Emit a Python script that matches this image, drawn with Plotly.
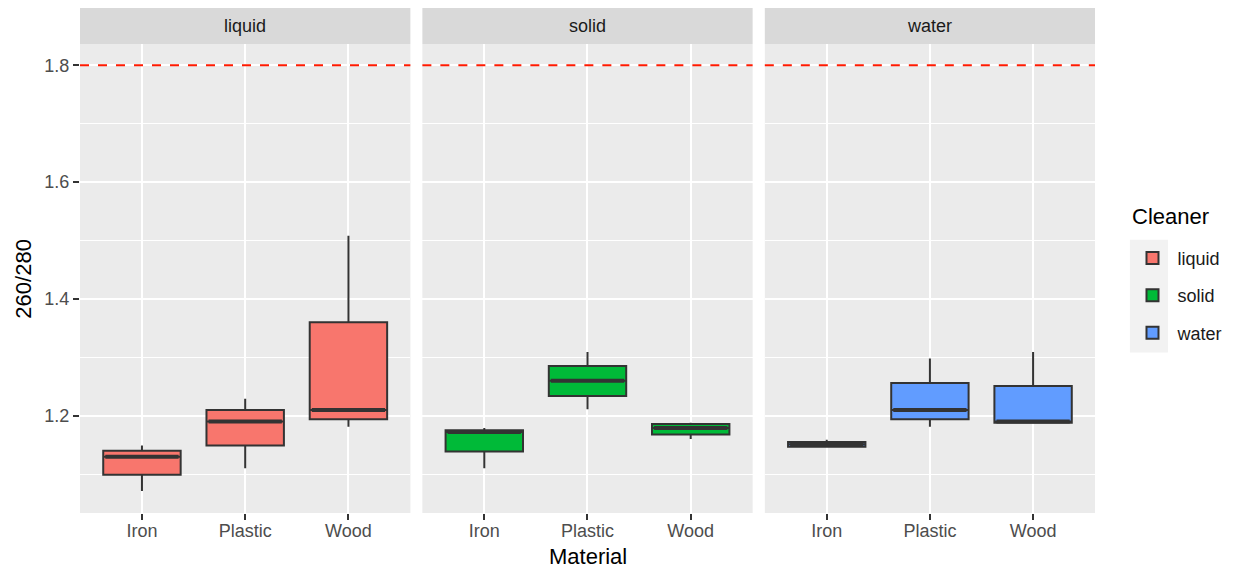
import plotly.graph_objects as go

# --- data -------------------------------------------------------------
MATERIALS = ["Iron", "Plastic", "Wood"]
CLEANERS = ["liquid", "solid", "water"]

# five-number summaries of 260/280 per material, one list per cleaner
liquid_low = [1.071, 1.110, 1.181]
liquid_q1 = [1.099, 1.149, 1.194]
liquid_med = [1.130, 1.190, 1.210]
liquid_q3 = [1.140, 1.210, 1.360]
liquid_high = [1.149, 1.229, 1.508]

solid_low = [1.110, 1.211, 1.160]
solid_q1 = [1.139, 1.234, 1.168]
solid_med = [1.172, 1.260, 1.179]
solid_q3 = [1.175, 1.285, 1.186]
solid_high = [1.179, 1.309, 1.188]

water_low = [1.146, 1.181, 1.188]
water_q1 = [1.147, 1.194, 1.188]
water_med = [1.151, 1.210, 1.190]
water_q3 = [1.155, 1.256, 1.251]
water_high = [1.159, 1.298, 1.309]

REFERENCE_RATIO = 1.8
Y_TICKS = [1.2, 1.4, 1.6, 1.8]
Y_MINOR = [1.1, 1.3, 1.5, 1.7]

summaries = {
    "liquid": (liquid_low, liquid_q1, liquid_med, liquid_q3, liquid_high),
    "solid": (solid_low, solid_q1, solid_med, solid_q3, solid_high),
    "water": (water_low, water_q1, water_med, water_q3, water_high),
}
fills = {"liquid": "#F8766D", "solid": "#00BA38", "water": "#619CFF"}

# --- style ------------------------------------------------------------
FONT = "Liberation Sans, Arial, Helvetica, sans-serif"
OUTLINE = "#333333"
PANEL_BG = "#EBEBEB"
STRIP_BG = "#D9D9D9"
KEY_BG = "#F2F2F2"
TICK_COLOR = "#4D4D4D"

domains = [[0.0, 0.3255], [0.3373, 0.6627], [0.6747, 1.0]]
y_range = [1.0335, 1.8365]
strip_top = 1.077

fig = go.Figure()

for i, cleaner in enumerate(CLEANERS):
    low, q1, med, q3, high = summaries[cleaner]
    xa = "x" if i == 0 else f"x{i + 1}"
    ya = "y" if i == 0 else f"y{i + 1}"
    fig.add_trace(go.Box(
        name=cleaner,
        x=MATERIALS,
        lowerfence=low, q1=q1, median=med, q3=q3, upperfence=high,
        fillcolor=fills[cleaner],
        line=dict(color=OUTLINE, width=2),
        whiskerwidth=0,
        width=0.75,
        boxpoints=False,
        xaxis=xa, yaxis=ya,
        legendgroup=cleaner,
        showlegend=True,
    ))
    # heavier median bar drawn on top of each box
    fig.add_trace(go.Box(
        name=cleaner,
        x=MATERIALS,
        lowerfence=med, q1=med, median=med, q3=med, upperfence=med,
        fillcolor=OUTLINE,
        line=dict(color=OUTLINE, width=4),
        whiskerwidth=0,
        width=0.75 - 0.04,
        boxpoints=False,
        xaxis=xa, yaxis=ya,
        legendgroup=cleaner,
        showlegend=False,
        hoverinfo="skip",
    ))

layout = dict(
    width=1239, height=573,
    margin=dict(l=80, r=143, t=44, b=60),
    paper_bgcolor="white",
    plot_bgcolor=PANEL_BG,
    boxmode="overlay",
    font=dict(family=FONT, size=18, color="#1A1A1A"),
    showlegend=True,
    legend=dict(
        font=dict(size=18, color="#1A1A1A"),
        x=1.031, xanchor="left",
        y=0.4633, yanchor="middle",
        itemwidth=40,
        tracegroupgap=11,
        bgcolor="rgba(0,0,0,0)",
    ),
    shapes=[],
    annotations=[],
)

for i, cleaner in enumerate(CLEANERS):
    sfx = "" if i == 0 else str(i + 1)
    layout[f"xaxis{sfx}"] = dict(
        domain=domains[i],
        type="category",
        categoryorder="array", categoryarray=MATERIALS,
        range=[-0.6, 2.6],
        showgrid=True, gridcolor="white", gridwidth=2,
        zeroline=False, showline=False,
        ticks="outside", ticklen=6, tickwidth=2, tickcolor=OUTLINE,
        ticklabelstandoff=-5,
        tickfont=dict(size=18, color=TICK_COLOR),
        anchor=f"y{sfx}",
        fixedrange=True,
    )
    layout[f"yaxis{sfx}"] = dict(
        range=y_range,
        tickmode="array", tickvals=Y_TICKS,
        ticktext=[f"{v:.1f}" for v in Y_TICKS],
        showgrid=True, gridcolor="white", gridwidth=2,
        minor=dict(tickmode="array", tickvals=Y_MINOR, showgrid=True,
                   gridcolor="white", gridwidth=1, ticks=""),
        zeroline=False, showline=False,
        ticks="outside" if i == 0 else "", ticklen=6, tickwidth=2,
        tickcolor=OUTLINE,
        showticklabels=(i == 0),
        tickfont=dict(size=18, color=TICK_COLOR),
        anchor=f"x{sfx}",
        matches=None if i == 0 else "y",
        fixedrange=True,
    )
    # facet strip
    layout["shapes"].append(dict(
        type="rect", xref="paper", yref="paper",
        x0=domains[i][0], x1=domains[i][1], y0=1.0, y1=strip_top,
        fillcolor=STRIP_BG, line=dict(width=0), layer="below",
    ))
    layout["annotations"].append(dict(
        text=cleaner, xref="paper", yref="paper",
        x=(domains[i][0] + domains[i][1]) / 2, y=(1.0 + strip_top) / 2,
        xanchor="center", yanchor="middle", showarrow=False,
        font=dict(size=18, color="#1A1A1A"),
    ))
    # reference line
    layout["shapes"].append(dict(
        type="line", xref=f"x{sfx} domain", yref=f"y{sfx}",
        x0=0, x1=1, y0=REFERENCE_RATIO, y1=REFERENCE_RATIO,
        line=dict(color="#FF1A00", width=2, dash="9px,9px"),
        layer="above",
    ))

# legend key background and title
layout["shapes"].append(dict(
    type="rect", xref="paper", yref="paper",
    x0=1.0344, x1=1.0719, y0=0.3424, y1=0.5827,
    fillcolor=KEY_BG, line=dict(width=0), layer="below",
))
layout["annotations"].append(dict(
    text="Cleaner", xref="paper", yref="paper", x=1.0345, y=0.632,
    xanchor="left", yanchor="middle", showarrow=False,
    font=dict(size=22, color="black"),
))

# axis titles
layout["annotations"].append(dict(
    text="Material", xref="paper", yref="paper", x=0.5, y=-0.093,
    xanchor="center", yanchor="middle", showarrow=False,
    font=dict(size=22, color="black"),
))
layout["annotations"].append(dict(
    text="260/280", xref="paper", yref="paper", x=-0.056, y=0.5,
    xanchor="center", yanchor="middle", showarrow=False, textangle=-90,
    font=dict(size=22, color="black"),
))

fig.update_layout(**layout)
fig.write_html("out.html")
